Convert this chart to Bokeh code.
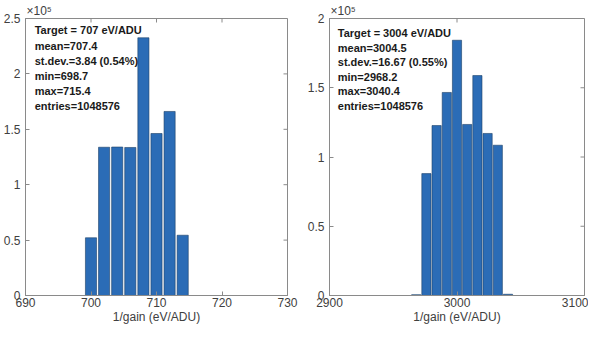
from bokeh.plotting import figure
from bokeh.models import FixedTicker, Label, Range1d
from bokeh.layouts import row
from bokeh.embed import file_html
from bokeh.resources import INLINE

# ---- data ----
left_centers = [700, 702, 704, 706, 708, 710, 712, 714]
left_counts = [52100, 133800, 134000, 133600, 232600, 146200, 166100, 54400]
left_xticks = [690, 700, 710, 720, 730]
left_yticks = [0, 50000, 100000, 150000, 200000, 250000]
left_ylabels = ["0", "0.5", "1", "1.5", "2", "2.5"]
left_text = ["Target  = 707 eV/ADU", "mean=707.4", "st.dev.=3.84 (0.54%)",
             "min=698.7", "max=715.4", "entries=1048576"]

right_centers = [2968, 2976, 2984, 2992, 3000, 3008, 3016, 3024, 3032, 3040]
right_counts = [600, 88000, 122700, 146600, 184300, 123500, 158800, 117000, 108500, 900]
right_xticks = [2900, 3000, 3100]
right_yticks = [0, 50000, 100000, 150000, 200000]
right_ylabels = ["0", "0.5", "1", "1.5", "2"]
right_text = ["Target = 3004 eV/ADU", "mean=3004.5", "st.dev.=16.67 (0.55%)",
              "min=2968.2", "max=3040.4", "entries=1048576"]

xlabel = "1/gain (eV/ADU)"
exp_text = "\u00d710\u2075"

FILL = "#2b6cb6"
EDGE = "#1d3f66"
AX = "#8a8a8a"
TXT = "#404040"
FONT = "Liberation Sans"
FH = 277
TICK_PX = 4


def make(centers, counts, xr, yr, xticks, yticks, ylabels, bar_w, text_lines,
         tx, ty0, tdy, fw, bl, br):
    p = figure(frame_width=fw, frame_height=FH, output_backend="svg", toolbar_location=None,
               x_range=Range1d(*xr), y_range=Range1d(*yr),
               min_border_left=bl, min_border_right=br,
               min_border_top=15, min_border_bottom=31)
    p.grid.visible = False
    p.outline_line_color = AX
    p.vbar(x=centers, top=counts, width=bar_w, fill_color=FILL,
           line_color=EDGE, line_width=0.6)

    for ax in (p.xaxis[0], p.yaxis[0]):
        ax.axis_line_color = AX
        ax.major_tick_line_color = AX
        ax.major_tick_in = TICK_PX
        ax.major_tick_out = 0
        ax.minor_tick_line_color = None
        ax.major_label_text_font = FONT
        ax.major_label_text_font_size = "12px"
        ax.major_label_text_color = TXT
    p.xaxis[0].ticker = FixedTicker(ticks=xticks)
    p.yaxis[0].ticker = FixedTicker(ticks=yticks)
    p.yaxis[0].major_label_overrides = {t: l for t, l in zip(yticks, ylabels)}
    p.yaxis[0].major_label_standoff = 5
    p.xaxis[0].major_label_standoff = 2
    p.xaxis[0].axis_label = xlabel
    p.xaxis[0].axis_label_text_font = FONT
    p.xaxis[0].axis_label_text_font_size = "12px"
    p.xaxis[0].axis_label_text_font_style = "normal"
    p.xaxis[0].axis_label_text_color = TXT
    p.xaxis[0].axis_label_standoff = 0

    # mirrored tick marks on the top and right edges of the box
    dy = (yr[1] - yr[0]) * TICK_PX / FH
    dx = (xr[1] - xr[0]) * TICK_PX / fw
    p.segment(x0=xticks, y0=[yr[1]] * len(xticks), x1=xticks,
              y1=[yr[1] - dy] * len(xticks), line_color=AX, line_width=1)
    p.segment(x0=[xr[1]] * len(yticks), y0=yticks, x1=[xr[1] - dx] * len(yticks),
              y1=yticks, line_color=AX, line_width=1)

    for i, line in enumerate(text_lines):
        p.add_layout(Label(x=tx, y=ty0 - i * tdy, text=line,
                           text_font=FONT, text_font_style="bold",
                           text_font_size="11px", text_color="#1a1a1a",
                           text_baseline="middle"))

    # x10^5 multiplier above the y axis
    p.title.text = exp_text
    p.title.align = "left"
    p.title.offset = 1
    p.title.standoff = 2
    p.title.text_font = FONT
    p.title.text_font_size = "12px"
    p.title.text_font_style = "normal"
    p.title.text_color = TXT
    return p


p1 = make(left_centers, left_counts, (690, 730), (0, 250000), left_xticks,
          left_yticks, left_ylabels, 1.7, left_text,
          691.4, 239200, 13700, 262, 24, 16)

p2 = make(right_centers, right_counts, (2900, 3100), (0, 200000), right_xticks,
          right_yticks, right_ylabels, 7.2, right_text,
          2906.5, 189500, 10500, 255, 26, 4)

layout = row(p1, p2)
open("out.html", "w").write(file_html(layout, INLINE))
